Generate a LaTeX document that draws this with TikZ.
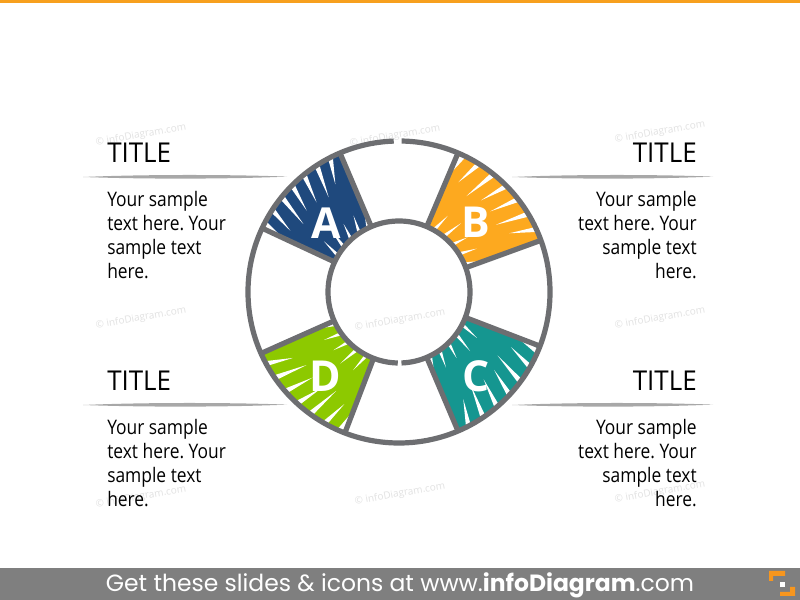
\documentclass[tikz,border=0pt]{standalone}
\usepackage{fontspec}
\setmainfont{Open Sans}[FakeStretch=0.87]
\newfontfamily\titlefont{Open Sans}[FakeStretch=0.95]
\newfontfamily\letterfont{Open Sans}
\newfontfamily\footfont{Poppins}
\usetikzlibrary{calc}
\frenchspacing

\definecolor{ringgray}{RGB}{109,110,113}
\definecolor{sepgray}{RGB}{168,168,168}
\definecolor{footgray}{RGB}{127,127,127}
\definecolor{topline}{RGB}{247,160,30}
\definecolor{logoorange}{RGB}{247,150,30}
\definecolor{segA}{RGB}{31,73,125}
\definecolor{segB}{RGB}{253,169,31}
\definecolor{segC}{RGB}{21,150,144}
\definecolor{segD}{RGB}{141,201,0}
\definecolor{wmark}{RGB}{226,226,226}

\tikzset{
  ring/.style={draw=ringgray, line width=3.9pt},
  ttl/.style={font=\titlefont\fontsize{20.5}{24}\selectfont, inner sep=0pt},
  body/.style={font=\fontsize{15}{18}\selectfont, inner sep=0pt},
  letter/.style={font=\letterfont\fontsize{32}{36}\selectfont\bfseries, text=white, inner sep=0pt},
  wm/.style={font=\letterfont\fontsize{7.5}{9}\selectfont, text=wmark, rotate=10, inner sep=0pt},
}

% colour, start angle, end angle
\newcommand{\scribble}[3]{%
  \begin{scope}
    \clip ($(c)+(#2:71)$) arc[start angle=#2, end angle=#3, radius=71]
      -- ($(c)+(#3:151)$) arc[start angle=#3, end angle=#2, radius=151] -- cycle;
    \fill[#1] ($(c)+(#2:60)$) arc[start angle=#2, end angle=#3, radius=60]
      -- ($(c)+(#3:160)$) arc[start angle=#3, end angle=#2, radius=160] -- cycle;
    \foreach \k in {0,...,6}
      \fill[white] ($(c)+({#2+(\k+0.6)*(#3-#2)/7-1}:154)$) -- ($(c)+({#2+(\k+0.6)*(#3-#2)/7+1.2}:154)$)
        -- ($(c)+({#2+(\k+0.6)*(#3-#2)/7+4}:{121+4*cos(140*\k)})$) -- cycle;
    \foreach \k in {0,...,4}
      \fill[white] ($(c)+({#2+(\k+0.4)*(#3-#2)/5-1.8}:68)$) -- ($(c)+({#2+(\k+0.4)*(#3-#2)/5+1.8}:68)$)
        -- ($(c)+({#2+(\k+0.4)*(#3-#2)/5-4}:{90+3*cos(110*\k)})$) -- cycle;
  \end{scope}}

% left x, right x, y
\newcommand{\sepline}[3]{%
  \fill[sepgray] (#1,#3) .. controls (#1+60,#3+2.6) and (#2-60,#3+2.6) .. (#2,#3+0.4)
    .. controls (#2-60,#3-2.2) and (#1+60,#3-2.2) .. cycle;}

\begin{document}
\begin{tikzpicture}[x=0.75pt, y=0.75pt]
\useasboundingbox (0,0) rectangle (800,600);
\fill[white] (0,0) rectangle (800,600);
\fill[topline] (0,597) rectangle (800,600);

\foreach \px/\py [count=\i] in {141/465, 395/464, 660/468, 141/282, 400/280, 660/282, 141/103, 400/106, 660/108}
  \node[wm] (wm\i) at (\px,\py) {\textcopyright\ infoDiagram.com};

\coordinate (c) at (399,308);

\scribble{segA}{113}{155}
\scribble{segB}{20}{67}
\scribble{segC}{293}{339}
\scribble{segD}{204}{249}

\foreach \a in {20, 67, 113, 155, 204, 249, 293, 339}
  \draw[ring] ($(c)+(\a:71)$) -- ($(c)+(\a:151)$);
\draw[ring] ($(c)+(92:151)$) arc[start angle=92, end angle=449, radius=151];
\draw[ring] ($(c)+(272:71)$) arc[start angle=272, end angle=629, radius=71];

\node[letter] (lblA) at (326,377) {A};
\node[letter] (lblB) at (476,378) {B};
\node[letter] (lblC) at (476,224) {C};
\node[letter] (lblD) at (325,224) {D};

\sepline{83}{287}{423}
\sepline{512}{713}{423}
\sepline{83}{287}{195}
\sepline{512}{713}{195}

\node[ttl, anchor=base west] (ttlA) at (107,437) {TITLE};
\node[ttl, anchor=base east] (ttlB) at (697,437) {TITLE};
\node[ttl, anchor=base west] (ttlD) at (107,209) {TITLE};
\node[ttl, anchor=base east] (ttlC) at (697,209) {TITLE};

\node[body, align=left, anchor=north west] (txtA) at (107,409) {Your sample\\text here. Your\\sample text\\here.};
\node[body, align=right, anchor=north east] (txtB) at (697,409) {Your sample\\text here. Your\\sample text\\here.};
\node[body, align=left, anchor=north west] (txtD) at (107,181) {Your sample\\text here. Your\\sample text\\here.};
\node[body, align=right, anchor=north east] (txtC) at (697,181) {Your sample\\text here. Your\\sample text\\here.};

\fill[footgray] (0,0) rectangle (800,32);
\node[text=white, inner sep=0pt, font=\footfont\fontsize{17.6}{20}\selectfont] (foot) at (400,15)
  {Get these slides \& icons at www.\textbf{infoDiagram}.com};

\fill[logoorange] (769,29) -- (785,29) -- (785,24) -- (773,24) -- (773,19) -- (769,19) -- cycle;
\fill[logoorange] (795,13) -- (795,4) -- (780,4) -- (780,8) -- (790,8) -- (790,13) -- cycle;
\fill[white] (780,13) rectangle (785,18);
\end{tikzpicture}
\end{document}
